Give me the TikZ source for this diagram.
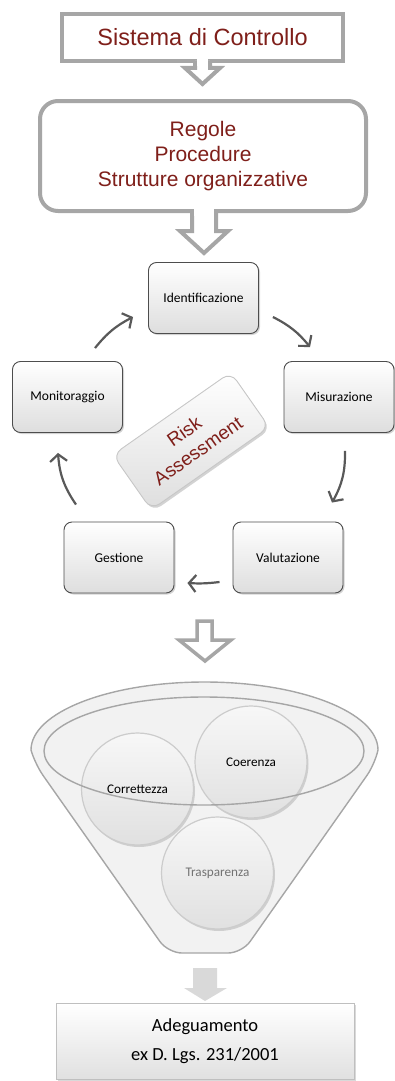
\documentclass[tikz,border=0pt]{standalone}
\usepackage{fontspec}
\setmainfont{Liberation Sans}
\newfontfamily\calfont{Carlito}
\usetikzlibrary{shadows,arrows.meta,calc}
\definecolor{ogray}{HTML}{A6A6A6}
\definecolor{dred}{HTML}{7F1F1A}
\definecolor{cgray}{HTML}{595959}
\definecolor{bborder}{HTML}{4D4D4D}
\definecolor{funfill}{HTML}{F2F2F2}
\definecolor{tgray}{HTML}{737373}
\tikzset{
  bigbox/.style={draw=ogray, line width=4pt, fill=white, text=dred, inner sep=0pt},
  hollowarrow/.style={draw=ogray, line width=4pt, fill=white, line join=miter},
  cycbox/.style={draw=bborder, line width=0.9pt, rounded corners=8pt,
    minimum width=110pt, minimum height=71pt, inner sep=0pt,
    top color=white, bottom color=black!13,
    drop shadow={shadow xshift=1.5pt, shadow yshift=-1.5pt, opacity=0.35},
    font=\calfont\fontsize{13.5}{16}\selectfont},
  riskbox/.style={draw=black!22, line width=0.9pt, rounded corners=10pt,
    minimum width=144pt, minimum height=67pt, inner sep=0pt, align=center,
    top color=white, bottom color=black!13, text=dred,
    drop shadow={shadow xshift=1.5pt, shadow yshift=-2pt, opacity=0.35},
    font=\fontsize{19}{24}\selectfont},
  carrow/.style={draw=cgray, line width=2.2pt, -{Straight Barb[length=7pt,width=17pt]}},
  circ/.style={circle, minimum size=112pt, inner sep=0pt, draw=black!20, line width=1.2pt,
    top color=black!3, bottom color=black!12,
    drop shadow={shadow xshift=1.5pt, shadow yshift=-2pt, opacity=0.3},
    font=\calfont\fontsize{13.2}{16}\selectfont},
  funnel/.style={draw=ogray, line width=1.4pt, fill=funfill},
  endbox/.style={draw=black!25, line width=0.9pt, minimum width=298pt, minimum height=76pt,
    inner sep=0pt, align=center, top color=white, bottom color=black!12,
    drop shadow={shadow xshift=1.5pt, shadow yshift=-1.5pt, opacity=0.3},
    font=\calfont\fontsize{18.5}{29}\selectfont}
}
\begin{document}
\begin{tikzpicture}[x=1pt,y=-1pt]
\useasboundingbox (0,0) rectangle (394,1081);
% top box with arrow
\node[bigbox, minimum width=281pt, minimum height=47pt,
  font=\fontsize{23.5}{28}\selectfont] (sdc) at (202.5,37.5) {Sistema di Controllo};
\filldraw[hollowarrow] (195,61) -- (195,68) -- (185,68) -- (202.5,84) -- (220,68) -- (210,68) -- (210,61);
\fill[white] (197,58.5) rectangle (208,66);
% second box
\node[bigbox, rounded corners=18pt, minimum width=326pt, minimum height=110pt, align=center,
  font=\fontsize{21}{25}\selectfont] (reg) at (203,156) {Regole\\Procedure\\Strutture organizzative};
\filldraw[hollowarrow] (192,211) -- (192,231) -- (180,231) -- (204,253) -- (228,231) -- (216,231) -- (216,211);
\fill[white] (194,207.5) rectangle (214,216);
% cycle
\node[cycbox] (ide) at (203.5,298) {Identificazione};
\node[cycbox] (mis) at (339,397) {Misurazione};
\node[cycbox] (mon) at (67.5,397) {Monitoraggio};
\node[cycbox] (val) at (288,557.5) {Valutazione};
\node[cycbox] (ges) at (119,557.5) {Gestione};
\node[riskbox, rotate=35] (risk) at (191,441) {Risk\\Assessment};
\draw[carrow] ([shift={(27.5,-13)}]mon.north) to[bend left=12] ([shift={(-15,19)}]ide.west);
\draw[carrow] ([shift={(14,19)}]ide.east) to[bend left=12] ([shift={(-29,-14)}]mis.north);
\draw[carrow] ([shift={(6,18)}]mis.south) to[bend left=15] ([shift={(44,-19)}]val.north);
\draw[carrow] ([shift={(-13,24.5)}]val.west) to[bend left=5] ([shift={(13,25.5)}]ges.east);
\draw[carrow] ([shift={(-43,-17)}]ges.north) to[bend left=15] ([shift={(-9.5,20)}]mon.south);
% arrow 3
\filldraw[hollowarrow, line width=3.5pt] (197,621) -- (212,621) -- (212,640) -- (231,640) -- (205,661) -- (179,640) -- (197,640) -- cycle;
% funnel
\filldraw[funnel] (31,750) [rounded corners=14pt] -- (35,764) -- (168,953) -- (242,953) -- (375,764) [sharp corners] -- (378,750)
  arc[start angle=0, end angle=-180, x radius=173.5, y radius=68] -- cycle;
\fill[funfill] (204,751) ellipse[x radius=160, y radius=54];
\node[circ] (coe) at (251,762) {Coerenza};
\node[circ] (cor) at (137.5,789) {Correttezza};
\node[circ, text=tgray] (tra) at (217.5,873) {Trasparenza};
\draw[ogray, line width=1.4pt] (204,751) ellipse[x radius=160, y radius=54];
% gray arrow
\fill[black!15] (193,968) -- (217,968) -- (217,988) -- (227,988) -- (205,1001) -- (184,988) -- (193,988) -- cycle;
\node[endbox] (adg) at (205,1041) {Adeguamento\\ex D. Lgs. 231/2001};
\end{tikzpicture}
\end{document}
